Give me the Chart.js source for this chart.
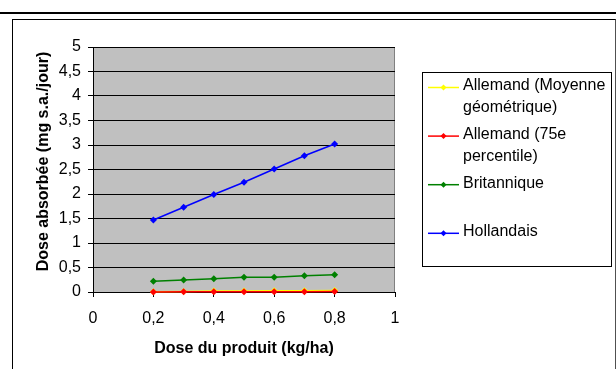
<!DOCTYPE html>
<html>
<head>
<meta charset="utf-8">
<script src="https://cdn.jsdelivr.net/npm/chart.js@4.4.1/dist/chart.umd.min.js"></script>
<style>
body{margin:0;background:#fff;width:616px;height:369px;overflow:hidden;position:relative}
#filet{position:absolute;left:0;top:12px;width:616px;height:2px;background:#000}
#cadre{position:absolute;left:12px;top:19px;width:602px;height:400px;border-top:1px solid #000;border-left:1px solid #000;border-right:1px solid #505050}
#graficaDose{position:absolute;left:0;top:0}
</style>
</head>
<body>
<div id="filet"></div>
<div id="cadre"><canvas id="graficaDose" width="602" height="349"></canvas></div>
<script>
// Doses du produit (kg/ha) et doses absorbées (mg s.a./jour)
const doses = [0.2, 0.3, 0.4, 0.5, 0.6, 0.7, 0.8];
const allemandMoyenne = [0.005, 0.008, 0.02, 0.022, 0.025, 0.027, 0.03];
const allemand75 = [0.002, 0.003, 0.004, 0.005, 0.006, 0.007, 0.008];
const britannique = [0.22, 0.245, 0.27, 0.3, 0.3, 0.33, 0.35];
const hollandais = [1.47, 1.73, 1.99, 2.24, 2.51, 2.78, 3.02];
const etiquetasX = ["0", "0,2", "0,4", "0,6", "0,8", "1"];
const etiquetasY = ["0", "0,5", "1", "1,5", "2", "2,5", "3", "3,5", "4", "4,5", "5"];
const leyenda = [["Allemand (Moyenne", "géométrique)"], ["Allemand (75e", "percentile)"], ["Britannique"], ["Hollandais"]];
const colores = ["#ffff00", "#ff0000", "#008000", "#0000ff"];
const tituloY = "Dose absorbée (mg s.a./jour)";

const fuente = "'Liberation Sans', Arial, sans-serif";

function serie(label, valores, i) {
    return {
        label: label,
        data: doses.map((d, k) => ({x: d, y: valores[k]})),
        borderColor: colores[i],
        backgroundColor: colores[i],
        borderWidth: 1.5,
        pointStyle: 'rectRot',
        pointRadius: 3.5,
        pointBorderWidth: 0,
        clip: false,
        order: 4 - i, // la série suivante passe au-dessus
    };
}

const datasets = [
    serie(leyenda[0].join(" "), allemandMoyenne, 0),
    serie(leyenda[1].join(" "), allemand75, 1),
    serie(leyenda[2].join(" "), britannique, 2),
    serie(leyenda[3].join(" "), hollandais, 3),
];

// fond gris de la zone de tracé
const fondo = {
    id: 'fondo',
    beforeDraw: (chart) => {
        const ctx = chart.ctx;
        const a = chart.chartArea;
        ctx.save();
        ctx.fillStyle = '#c0c0c0';
        ctx.fillRect(a.left, a.top, a.right - a.left, a.bottom - a.top);
        ctx.strokeStyle = '#808080';
        ctx.lineWidth = 1;
        ctx.beginPath();
        ctx.moveTo(a.right - 0.5, a.top);
        ctx.lineTo(a.right - 0.5, a.bottom);
        ctx.stroke();
        ctx.restore();
    }
};

// titre vertical et légende encadrée à droite
const extras = {
    id: 'extras',
    afterDraw: (chart) => {
        const ctx = chart.ctx;
        const a = chart.chartArea;
        ctx.save();
        ctx.fillStyle = '#000';
        ctx.font = "bold 16px " + fuente;
        ctx.textAlign = 'center';
        ctx.textBaseline = 'middle';
        ctx.translate(a.left - 49, a.top + (a.bottom - a.top) / 2 - 8);
        ctx.rotate(-Math.PI / 2);
        ctx.fillText(tituloY, 0, 0);
        ctx.restore();

        const bx = a.right + 27, by = 52, bw = 189, bh = 194;
        ctx.save();
        ctx.fillStyle = '#fff';
        ctx.fillRect(bx, by, bw, bh);
        ctx.strokeStyle = '#000';
        ctx.lineWidth = 1;
        ctx.strokeRect(bx + 0.5, by + 0.5, bw, bh);
        ctx.font = "16px " + fuente;
        ctx.textBaseline = 'middle';
        ctx.textAlign = 'left';
        leyenda.forEach((lineas, i) => {
            const y = by + 14 + i * 48.6;
            ctx.strokeStyle = colores[i];
            ctx.lineWidth = 1.5;
            ctx.beginPath();
            ctx.moveTo(bx + 6, y + 1.5);
            ctx.lineTo(bx + 37, y + 1.5);
            ctx.stroke();
            ctx.fillStyle = colores[i];
            ctx.beginPath();
            ctx.moveTo(bx + 21.5, y - 1.5);
            ctx.lineTo(bx + 24.5, y + 1.5);
            ctx.lineTo(bx + 21.5, y + 4.5);
            ctx.lineTo(bx + 18.5, y + 1.5);
            ctx.closePath();
            ctx.fill();
            ctx.fillStyle = '#000';
            lineas.forEach((t, j) => ctx.fillText(t, bx + 41, y + j * 22));
        });
        ctx.restore();
    }
};

const ctx = document.getElementById('graficaDose');
const myChart = new Chart(ctx, {
    type: 'line',
    data: {datasets: datasets},
    plugins: [fondo, extras],
    options: {
        responsive: false,
        animation: false,
        devicePixelRatio: 1,
        layout: {padding: {left: 0, top: 27, right: 220, bottom: 0}},
        plugins: {legend: {display: false}, tooltip: {enabled: false}},
        scales: {
            x: {
                type: 'linear',
                min: 0,
                max: 1,
                afterFit: (s) => { s.height = 77; },
                ticks: {
                    stepSize: 0.2,
                    color: '#000',
                    padding: 12,
                    maxRotation: 0,
                    font: {family: fuente, size: 16},
                    callback: (v, i) => etiquetasX[i],
                },
                grid: {drawOnChartArea: false, color: '#000', tickLength: 5},
                border: {color: '#000'},
                title: {
                    display: true,
                    text: "Dose du produit (kg/ha)",
                    color: '#000',
                    font: {family: fuente, size: 16, weight: 'bold'},
                    padding: {top: 0, bottom: 11},
                },
            },
            y: {
                min: 0,
                max: 5,
                afterFit: (s) => { s.width = 80; },
                ticks: {
                    stepSize: 0.5,
                    color: '#000',
                    padding: 7,
                    font: {family: fuente, size: 16},
                    callback: (v, i) => etiquetasY[i],
                },
                grid: {color: '#000', tickLength: 5},
                border: {color: '#000'},
            },
        },
    },
});
</script>
</body>
</html>
